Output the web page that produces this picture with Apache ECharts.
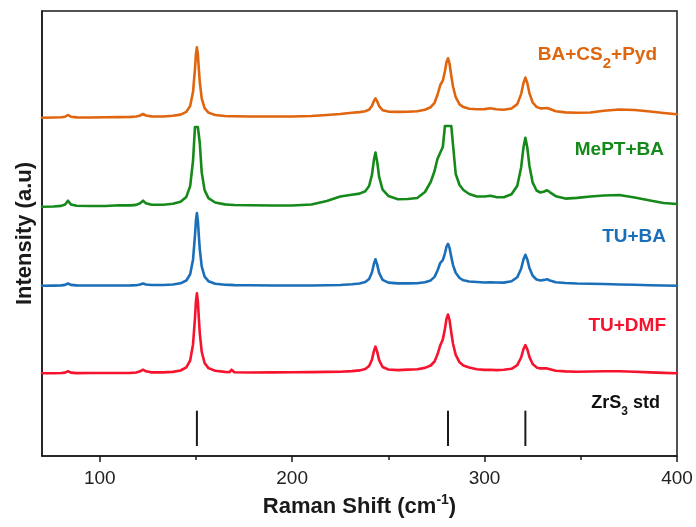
<!DOCTYPE html>
<html>
<head>
<meta charset="utf-8">
<script src="https://cdn.jsdelivr.net/npm/echarts@6/dist/echarts.min.js"></script>
<style>
  html, body { margin: 0; padding: 0; background: #ffffff; }
  #chart { width: 696px; height: 527px; }
</style>
</head>
<body>
<div id="chart"></div>
<script>
// Raman shift axis (cm^-1), shared by all four spectra
const ramanShift = [
  70, 76, 80, 82, 83.5, 85, 88, 95, 103, 110,
  116, 119, 121, 122.5, 124, 127, 133, 138, 142, 145,
  147, 148.5, 149.5, 150, 150.5, 151, 151.5, 152, 153, 154.5,
  156.5, 160, 165, 167.5, 168.5, 170, 178, 190, 200, 210,
  218, 225, 231, 235, 238, 240, 241.5, 242.5, 243.3, 244.2,
  245.2, 247, 250, 255, 260, 265, 269, 272, 274, 275.5,
  277, 278.3, 279.4, 280.2, 281, 281.8, 282.7, 283.6, 285, 287,
  289, 292, 296, 300, 303, 306, 310, 314, 317, 319,
  320.2, 321.2, 322.2, 323.3, 325, 327, 329, 331, 332.5, 334,
  337, 342, 348, 355, 362, 370, 378, 386, 393, 400
];

// Intensities (a.u., stacked traces)
const baCs2Pyd = [
  338.3, 338.5, 338.7, 339.3, 341.0, 339.3, 338.6, 338.5, 338.7, 338.9,
  339.1, 339.5, 340.5, 342.0, 340.5, 339.6, 339.5, 340.2, 341.4, 344.1,
  350.0, 364.2, 387.1, 401.7, 408.6, 401.7, 387.1, 374.0, 357.7, 347.8,
  343.4, 341.0, 340.0, 339.8, 339.8, 339.7, 339.5, 339.5, 339.5, 340.0,
  341.0, 342.0, 343.3, 343.9, 344.7, 346.4, 350.2, 355.1, 357.6, 354.6,
  349.9, 345.8, 344.4, 344.1, 344.2, 344.7, 346.3, 348.8, 353.2, 361.0,
  371.0, 375.3, 384.7, 393.7, 397.7, 392.3, 380.3, 369.5, 358.8, 351.6,
  348.9, 347.2, 346.8, 346.9, 347.7, 346.8, 346.3, 347.5, 351.9, 361.9,
  372.8, 378.4, 373.0, 362.9, 353.5, 349.1, 347.6, 347.7, 348.0, 347.0,
  344.8, 343.6, 343.3, 343.5, 345.3, 346.5, 346.0, 344.5, 343.0, 341.7
];

const mePtBa = [
  249.3, 249.5, 250.1, 251.5, 255.3, 251.6, 250.3, 250.0, 250.0, 250.8,
  250.6, 251.1, 252.8, 255.3, 252.8, 251.3, 251.2, 252.3, 254.3, 259.1,
  269.9, 295.5, 329.0, 329.0, 329.0, 329.0, 329.0, 313.0, 283.6, 265.9,
  257.9, 253.5, 251.6, 251.3, 251.2, 251.0, 250.7, 250.5, 250.5, 251.5,
  255.0, 259.5, 261.2, 262.4, 264.8, 270.0, 281.4, 296.2, 303.5, 294.1,
  279.2, 266.4, 260.1, 256.8, 257.0, 258.0, 264.0, 274.0, 285.0, 297.0,
  303.5, 309.0, 330.0, 330.0, 330.0, 330.0, 330.0, 330.0, 282.0, 271.0,
  266.0, 262.0, 259.5, 259.5, 260.2, 258.9, 258.7, 261.7, 270.3, 288.6,
  308.4, 318.3, 308.5, 290.3, 273.3, 265.5, 263.5, 264.5, 265.8, 263.7,
  259.8, 257.4, 258.1, 259.5, 260.5, 261.0, 258.5, 255.5, 253.0, 252.0
];

const tuBa = [
  170.3, 170.4, 170.6, 171.1, 172.5, 171.1, 170.6, 170.5, 170.5, 170.5,
  170.6, 170.8, 171.5, 172.5, 171.5, 171.0, 171.0, 171.5, 172.7, 175.5,
  181.7, 196.6, 220.5, 235.7, 242.9, 235.7, 220.5, 206.7, 189.7, 179.4,
  174.8, 172.2, 171.3, 171.1, 171.0, 170.9, 170.7, 170.5, 170.5, 170.5,
  170.7, 171.0, 171.7, 172.5, 174.0, 177.0, 183.7, 192.3, 196.7, 191.4,
  183.1, 176.1, 173.4, 172.6, 172.6, 172.7, 173.7, 175.6, 179.1, 185.3,
  193.2, 195.9, 202.7, 209.3, 212.2, 208.1, 199.1, 190.9, 183.2, 178.0,
  175.7, 174.5, 174.0, 173.5, 173.7, 173.5, 173.4, 174.7, 178.7, 187.2,
  196.5, 201.2, 196.6, 188.1, 180.2, 176.5, 175.5, 176.1, 176.7, 175.5,
  173.7, 173.0, 172.5, 172.3, 172.0, 171.5, 171.2, 170.8, 170.5, 170.3
];

const tuDmf = [
  82.7, 82.8, 83.0, 83.4, 84.8, 83.4, 82.9, 83.0, 83.0, 83.0,
  83.1, 83.5, 84.7, 86.3, 84.7, 83.6, 83.6, 84.1, 85.5, 88.7,
  95.5, 111.8, 138.0, 154.7, 162.6, 154.7, 138.0, 122.9, 104.2, 93.0,
  87.9, 85.2, 84.1, 83.9, 86.3, 83.8, 83.5, 83.6, 83.7, 83.9,
  84.1, 84.3, 84.9, 85.6, 86.9, 90.0, 96.6, 105.0, 109.3, 104.1,
  95.9, 89.0, 86.5, 85.9, 86.4, 86.8, 88.1, 90.5, 94.5, 101.4,
  110.8, 116.6, 127.3, 137.1, 141.5, 136.0, 123.5, 112.2, 101.1, 93.7,
  90.4, 88.5, 86.7, 86.1, 86.2, 85.9, 86.2, 87.2, 90.8, 98.5,
  106.8, 110.9, 106.8, 99.1, 92.0, 88.6, 87.6, 87.6, 87.6, 86.8,
  85.3, 84.6, 84.3, 84.5, 84.7, 84.7, 84.3, 83.6, 83.1, 82.7
];

// ZrS3 reference lines: peak positions and the stick span (a.u.)
const zrs3Peaks = [150.5, 281, 321.2];
const zrs3Span = [10, 45.3];

// Axis ticks
const xMajorTicks = [100, 200, 300, 400];
const xMinorTicks = [150, 250, 350];

const FONT = '"Liberation Sans", Arial, Helvetica, sans-serif';
const COLORS = {
  orange: '#E0650F',
  green: '#15891A',
  blue: '#1A6FB8',
  red: '#F5132E',
  ink: '#1a1a1a'
};

const toPairs = vals => ramanShift.map((x, i) => [x, vals[i]]);

const spectrum = (name, vals, color) => ({
  name,
  type: 'line',
  data: toPairs(vals),
  showSymbol: false,
  symbol: 'none',
  smooth: false,
  silent: true,
  lineStyle: { color, width: 2.6, join: 'round', cap: 'round' },
  itemStyle: { color }
});

const chart = echarts.init(document.getElementById('chart'), null, { renderer: 'canvas' });

const labelText = (text, color, x, y, mainSize, subSize, lh) => ({
  type: 'text',
  x, y,
  silent: true,
  style: {
    text,
    align: 'right',
    verticalAlign: 'middle',
    fill: color,
    fontFamily: FONT,
    fontWeight: 'bold',
    fontSize: mainSize,
    rich: {
      a: { fill: color, fontFamily: FONT, fontWeight: 'bold', fontSize: mainSize, lineHeight: lh, verticalAlign: 'middle' },
      s: { fill: color, fontFamily: FONT, fontWeight: 'bold', fontSize: subSize, lineHeight: lh, verticalAlign: 'bottom' }
    }
  }
});

const option = {
  animation: false,
  backgroundColor: '#ffffff',
  grid: {
    left: 42, right: 19, top: 11, bottom: 71,
    show: true, borderColor: COLORS.ink, borderWidth: 1.5,
    backgroundColor: 'transparent'
  },
  xAxis: [
    {
      type: 'value', min: 70, max: 400, position: 'bottom',
      name: '{t|Raman Shift (cm}{s|-1}{t|)}',
      nameLocation: 'middle',
      nameGap: 35,
      nameTextStyle: {
        rich: {
          t: { fontFamily: FONT, fontWeight: 'bold', fontSize: 22, color: COLORS.ink, lineHeight: 28, verticalAlign: 'middle' },
          s: { fontFamily: FONT, fontWeight: 'bold', fontSize: 14, color: COLORS.ink, lineHeight: 28, verticalAlign: 'top' }
        }
      },
      axisLine: { show: true, onZero: false, lineStyle: { color: COLORS.ink, width: 1.5 } },
      axisTick: { show: true, inside: false, length: 6, customValues: xMajorTicks, lineStyle: { color: COLORS.ink, width: 1.5 } },
      axisLabel: { show: true, customValues: xMajorTicks, fontFamily: FONT, fontSize: 19, color: '#222', margin: 13 },
      splitLine: { show: false }
    },
    {
      type: 'value', min: 70, max: 400, position: 'bottom',
      axisLine: { show: false, onZero: false },
      axisTick: { show: true, inside: false, length: 4, customValues: xMinorTicks, lineStyle: { color: COLORS.ink, width: 1.5 } },
      axisLabel: { show: false },
      splitLine: { show: false }
    }
  ],
  yAxis: {
    type: 'value', min: 0, max: 445,
    name: 'Intensity (a.u)',
    nameLocation: 'middle',
    nameRotate: 90,
    nameGap: 6,
    nameTextStyle: { fontFamily: FONT, fontWeight: 'bold', fontSize: 22, color: COLORS.ink },
    axisLine: { show: true, onZero: false, lineStyle: { color: COLORS.ink, width: 1.5 } },
    axisTick: { show: false },
    axisLabel: { show: false },
    splitLine: { show: false }
  },
  series: [
    spectrum('TU+DMF', tuDmf, COLORS.red),
    spectrum('TU+BA', tuBa, COLORS.blue),
    spectrum('MePT+BA', mePtBa, COLORS.green),
    spectrum('BA+CS2+Pyd', baCs2Pyd, COLORS.orange),
    {
      name: 'ZrS3 std',
      type: 'custom',
      silent: true,
      data: zrs3Peaks.map(p => [p, zrs3Span[0], zrs3Span[1]]),
      encode: { x: 0, y: [1, 2] },
      renderItem: (params, api) => {
        const lo = api.coord([api.value(0), api.value(1)]);
        const hi = api.coord([api.value(0), api.value(2)]);
        return {
          type: 'line',
          shape: { x1: lo[0], y1: lo[1], x2: hi[0], y2: hi[1] },
          style: { stroke: COLORS.ink, lineWidth: 2 }
        };
      }
    }
  ],
  graphic: [
    labelText('{a|BA+CS}{s|2}{a|+Pyd}', COLORS.orange, 657, 54.5, 19, 15, 34),
    labelText('{a|MePT+BA}', COLORS.green, 664, 149.5, 19, 15, 34),
    labelText('{a|TU+BA}', COLORS.blue, 666, 237, 19, 15, 34),
    labelText('{a|TU+DMF}', COLORS.red, 666, 325.5, 19, 15, 34),
    labelText('{a|ZrS}{s|3}{a| std}', '#111111', 660, 403.5, 18, 12, 28)
  ]
};

chart.setOption(option);
</script>
</body>
</html>
